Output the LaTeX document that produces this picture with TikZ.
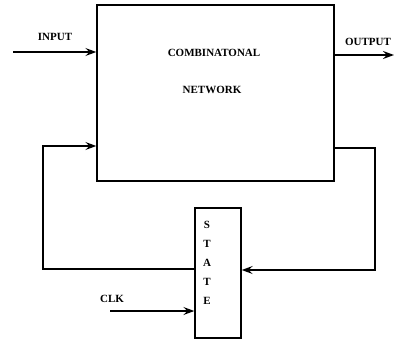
\documentclass[tikz,border=0pt]{standalone}
\usepackage{fontspec}
\setmainfont{Liberation Serif}
\usetikzlibrary{arrows.meta}

\tikzset{
  block/.style={draw,line width=1.4pt,inner sep=0pt},
  wire/.style={line width=1.4pt},
  arr/.style={wire,-{Stealth[length=11pt,width=8pt,inset=4pt]}},
  lbl/.style={font=\fontsize{11}{13}\selectfont\bfseries}
}

\begin{document}
\begin{tikzpicture}[x=1pt,y=-1pt]
    \useasboundingbox (0,0) rectangle (395,339);
    % Blocks
    \node[block,minimum width=237pt,minimum height=176pt] (comb) at (215.5,93) {};
    \node[lbl] (combtxt) at (214,53) {COMBINATONAL};
    \node[lbl] (nettxt) at (212,90) {NETWORK};
    \node[block,minimum width=46pt,minimum height=130pt] (state) at (218,273) {};
    \node[lbl,align=center,font=\fontsize{11}{19}\selectfont\bfseries] (statetxt) at (207,263)
      {S\\T\\A\\T\\E};
    % Input
    \coordinate (inp) at (13,52);
    \draw[arr] (inp) -- (comb.west |- inp);
    \node[lbl] (inplbl) at (55,37) {INPUT};
    % Output
    \coordinate (outp) at (394,55);
    \draw[arr] (comb.east |- outp) -- (outp);
    \node[lbl] (outlbl) at (368,42) {OUTPUT};
    % Feedback loops
    \coordinate (fbl) at (43,146);
    \coordinate (fbr) at (375,148);
    \draw[arr] (state.west |- 0,269) -| (fbl) -- (comb.west |- fbl);
    \draw[arr] (comb.east |- fbr) -- (fbr) |- (state.east |- 0,270);
    % Clock
    \coordinate (clk) at (110,311);
    \draw[arr] (clk) -- (state.west |- clk);
    \node[lbl] (clklbl) at (112,299) {CLK};
\end{tikzpicture}
\end{document}
